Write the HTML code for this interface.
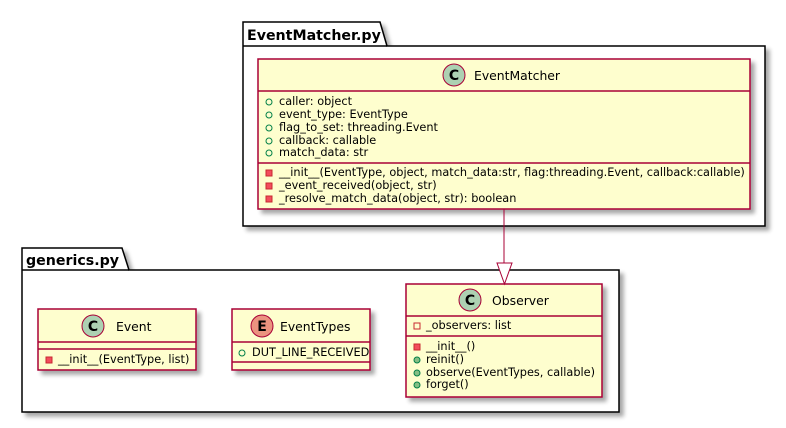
<!DOCTYPE html>
<html><head><meta charset="utf-8"><style>
html,body{margin:0;padding:0;background:#fff;}
svg text{font-family:"DejaVu Sans","Liberation Sans",sans-serif;}
</style></head><body>
<svg width="786" height="423" viewBox="0 0 786 423" xmlns="http://www.w3.org/2000/svg">
<defs>
<filter id="sh" x="-5%" y="-5%" width="115%" height="120%">
<feGaussianBlur in="SourceAlpha" stdDeviation="2"/>
<feOffset dx="4" dy="4" result="b"/>
<feComponentTransfer><feFuncA type="linear" slope="0.35"/></feComponentTransfer>
<feMerge><feMergeNode/><feMergeNode in="SourceGraphic"/></feMerge>
</filter>
</defs>

<g filter="url(#sh)">
<path d="M243,46 L243,22 L380,22 L387,46 L765,46 L765,226 L243,226 Z" fill="#fff" stroke="#000" stroke-width="1.5"/>
</g>
<line x1="243" y1="46" x2="387" y2="46" stroke="#000" stroke-width="1.5"/>
<text x="247" y="40" font-size="14.2" font-weight="bold">EventMatcher.py</text>

<g filter="url(#sh)"><rect x="258" y="59" width="492" height="150" fill="#FEFECE" stroke="#A80036" stroke-width="1.5"/></g>
<line x1="258" y1="91" x2="750" y2="91" stroke="#A80036" stroke-width="1.5"/>
<line x1="258" y1="163" x2="750" y2="163" stroke="#A80036" stroke-width="1.5"/>
<circle cx="454" cy="75" r="11" fill="#ADD1B2" stroke="#A80036"/>
<text x="454" y="80" font-size="14" font-weight="bold" text-anchor="middle">C</text>
<text x="474" y="80" font-size="12.4">EventMatcher</text>
<g font-size="11.3">
<circle cx="269" cy="102" r="3" fill="none" stroke="#038048"/><text x="279" y="105">caller: object</text>
<circle cx="269" cy="115" r="3" fill="none" stroke="#038048"/><text x="279" y="118">event_type: EventType</text>
<circle cx="269" cy="128" r="3" fill="none" stroke="#038048"/><text x="279" y="131">flag_to_set: threading.Event</text>
<circle cx="269" cy="141" r="3" fill="none" stroke="#038048"/><text x="279" y="144">callback: callable</text>
<circle cx="269" cy="153" r="3" fill="none" stroke="#038048"/><text x="279" y="156">match_data: str</text>
<rect x="266" y="170" width="6" height="6" fill="#F24D5C" stroke="#C82930"/><text x="279" y="176">__init__(EventType, object, match_data:str, flag:threading.Event, callback:callable)</text>
<rect x="266" y="183" width="6" height="6" fill="#F24D5C" stroke="#C82930"/><text x="279" y="189">_event_received(object, str)</text>
<rect x="266" y="196" width="6" height="6" fill="#F24D5C" stroke="#C82930"/><text x="279" y="202">_resolve_match_data(object, str): boolean</text>
</g>

<g filter="url(#sh)">
<path d="M22,270 L22,248 L122,248 L129,270 L619,270 L619,412 L22,412 Z" fill="#fff" stroke="#000" stroke-width="1.5"/>
</g>
<line x1="22" y1="270" x2="129" y2="270" stroke="#000" stroke-width="1.5"/>
<text x="26" y="265" font-size="14.2" font-weight="bold">generics.py</text>

<g filter="url(#sh)"><rect x="38" y="309" width="158" height="61" fill="#FEFECE" stroke="#A80036" stroke-width="1.5"/></g>
<line x1="38" y1="342" x2="196" y2="342" stroke="#A80036" stroke-width="1.5"/>
<line x1="38" y1="349" x2="196" y2="349" stroke="#A80036" stroke-width="1.5"/>
<circle cx="93" cy="326" r="11" fill="#ADD1B2" stroke="#A80036"/>
<text x="93" y="331" font-size="14" font-weight="bold" text-anchor="middle">C</text>
<text x="116" y="331" font-size="12.4">Event</text>
<rect x="46" y="357" width="6" height="6" fill="#F24D5C" stroke="#C82930"/>
<text x="58" y="363" font-size="11.3">__init__(EventType, list)</text>

<g filter="url(#sh)"><rect x="232" y="309" width="138" height="61" fill="#FEFECE" stroke="#A80036" stroke-width="1.5"/></g>
<line x1="232" y1="342" x2="370" y2="342" stroke="#A80036" stroke-width="1.5"/>
<line x1="232" y1="362" x2="370" y2="362" stroke="#A80036" stroke-width="1.5"/>
<circle cx="262" cy="326" r="11" fill="#EB937F" stroke="#A80036"/>
<text x="262" y="331" font-size="14" font-weight="bold" text-anchor="middle">E</text>
<text x="280" y="331" font-size="12.4">EventTypes</text>
<circle cx="242" cy="353" r="3" fill="none" stroke="#038048"/>
<text x="252" y="356" font-size="11.3">DUT_LINE_RECEIVED</text>

<g filter="url(#sh)"><rect x="406" y="284" width="196" height="113" fill="#FEFECE" stroke="#A80036" stroke-width="1.5"/></g>
<line x1="406" y1="316" x2="602" y2="316" stroke="#A80036" stroke-width="1.5"/>
<line x1="406" y1="336" x2="602" y2="336" stroke="#A80036" stroke-width="1.5"/>
<circle cx="470" cy="300" r="11" fill="#ADD1B2" stroke="#A80036"/>
<text x="470" y="305" font-size="14" font-weight="bold" text-anchor="middle">C</text>
<text x="492" y="305" font-size="12.4">Observer</text>
<g font-size="11.3">
<rect x="414" y="323" width="6" height="6" fill="none" stroke="#C82930"/><text x="426" y="329">_observers: list</text>
<rect x="414" y="344" width="6" height="6" fill="#F24D5C" stroke="#C82930"/><text x="426" y="350">__init__()</text>
<circle cx="417" cy="360" r="3" fill="#84BE84" stroke="#038048"/><text x="426" y="363">reinit()</text>
<circle cx="417" cy="373" r="3" fill="#84BE84" stroke="#038048"/><text x="426" y="376">observe(EventTypes, callable)</text>
<circle cx="417" cy="385" r="3" fill="#84BE84" stroke="#038048"/><text x="426" y="388">forget()</text>
</g>

<line x1="504" y1="209" x2="504" y2="263" stroke="#A80036" stroke-width="1"/>
<polygon points="497,263 512,263 504.5,284" fill="#fff" stroke="#A80036" stroke-width="1"/>
</svg>
</body></html>
